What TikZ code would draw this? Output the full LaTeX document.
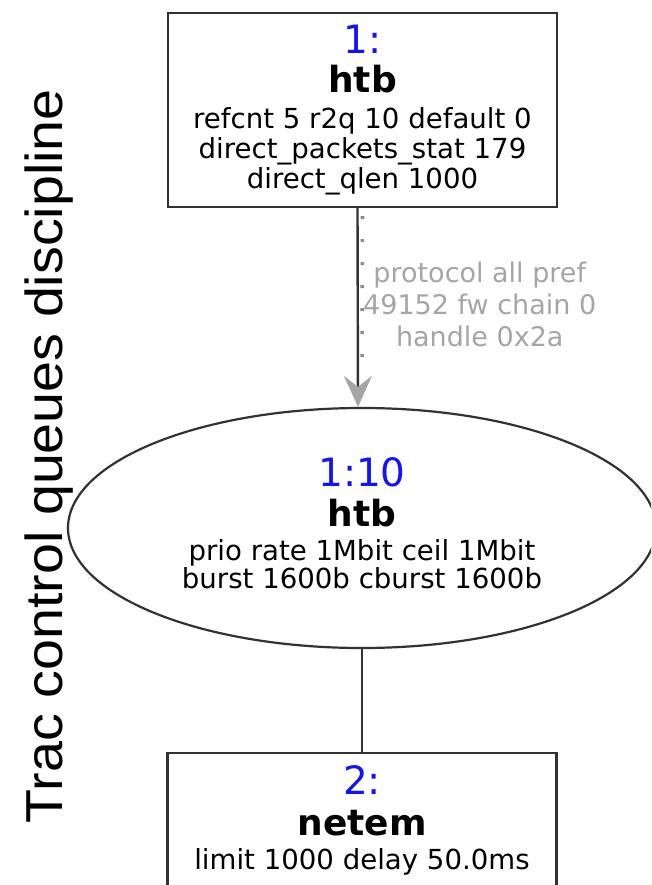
\documentclass[tikz,border=0pt]{standalone}
\usepackage{fontspec}
\setmainfont{DejaVu Sans}
\newfontfamily\titlefont[FakeStretch=1.07]{Liberation Sans}
\usetikzlibrary{shapes.geometric,arrows.meta}

\definecolor{handlecol}{RGB}{18,18,255}
\definecolor{linecol}{RGB}{50,50,50}
\definecolor{filtercol}{RGB}{165,165,165}

% handle, kind and options of a qdisc or class
\newcommand{\qhandle}[1]{{\fontsize{39}{39}\selectfont\color{handlecol}#1}}
\newcommand{\qkind}[1]{{\fontsize{36}{36}\selectfont\bfseries #1}}
\newcommand{\qoptfont}{\fontsize{27.6}{30}\selectfont\lineskiplimit=-100pt\relax}
\newcommand{\filterfont}{\fontsize{27}{32}\selectfont\lineskiplimit=-100pt\relax}

\tikzset{
  qdisc/.style={draw=linecol,line width=2.2pt,rectangle,inner sep=0pt,
    minimum width=389pt,minimum height=194pt,align=center,font=\qoptfont},
  qclass/.style={qdisc,ellipse,minimum width=588pt,minimum height=240pt,
    text depth=10.4pt},
  filter/.style={filtercol,align=center,font=\filterfont}
}

\begin{document}
\begin{tikzpicture}[x=1pt,y=-1pt]
\useasboundingbox (0,0) rectangle (651,885);
\clip (0,0) rectangle (651,885);

\node[rotate=90,anchor=base,font=\titlefont\fontsize{52}{52}\selectfont]
  (title) at (62,456) {Trac control queues discipline};

\node[qdisc,anchor=north] (root) at (362.5,12)
  {\qhandle{1:}\\[9pt]\qkind{htb}\\[6pt]refcnt 5 r2q 10 default 0\\
   direct\_packets\_stat 179\\direct\_qlen 1000};
\node[qclass] (cls) at (362,528)
  {\qhandle{1:10}\\[10pt]\qkind{htb}\\[4pt]prio rate 1Mbit ceil 1Mbit\\[-2pt]
   burst 1600b cburst 1600b};
\node[qdisc,anchor=north,minimum height=135pt] (leaf) at (362,752)
  {\qhandle{2:}\\[11pt]\qkind{netem}\\[4pt]limit 1000 delay 50.0ms};

% filter edge: dotted trace beside the arrow
\draw[filtercol!85!black,line width=3.6pt,dash pattern=on 3pt off 20pt]
  ([yshift=-8pt]root.south) -- ([yshift=32pt]cls.north);
\draw[linecol,line width=2.4pt,
  -{Stealth[length=31pt,width=28pt,inset=11pt,color=filtercol]}]
  ([xshift=-5pt]root.south) -- ([xshift=-4pt]cls.north)
  node[filter,midway,anchor=center,xshift=122pt,yshift=3pt] (flt)
  {protocol all pref\\49152 fw chain 0\\handle 0x2a};
\draw[linecol,line width=2.2pt] (cls.south) -- (leaf.north);
\end{tikzpicture}
\end{document}
